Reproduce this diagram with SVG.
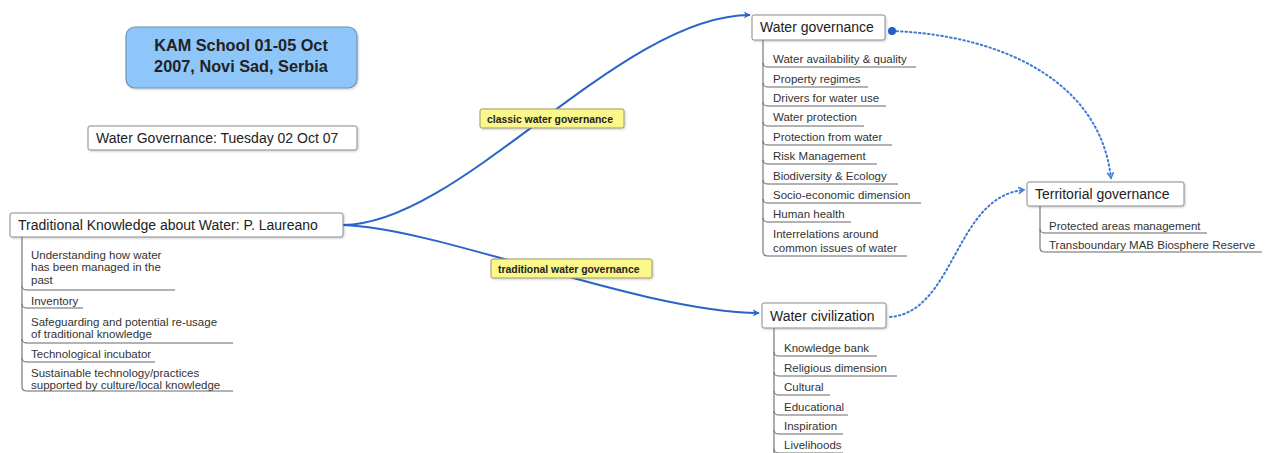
<svg xmlns="http://www.w3.org/2000/svg" width="1270" height="453" viewBox="0 0 1270 453">
  <defs>
    <marker id="arrow" viewBox="0 0 10 10" refX="9" refY="5" markerWidth="7" markerHeight="7" orient="auto" markerUnits="userSpaceOnUse">
      <path d="M0,0 L10,5 L0,10 L3,5 z" fill="#2a64c8"/>
    </marker>
    <marker id="openArrow" viewBox="0 0 10 10" refX="8" refY="5" markerWidth="8" markerHeight="8" orient="auto" markerUnits="userSpaceOnUse">
      <path d="M1,1 L8,5 L1,9" fill="none" stroke="#4a7fd6" stroke-width="2"/>
    </marker>
    <marker id="dot" viewBox="0 0 10 10" refX="5" refY="5" markerWidth="9" markerHeight="9" markerUnits="userSpaceOnUse">
      <circle cx="5" cy="5" r="4.5" fill="#1f5fc8"/>
    </marker>
    <filter id="shadow" x="-5%" y="-20%" width="110%" height="150%">
      <feDropShadow dx="1" dy="1" stdDeviation="1" flood-color="#000" flood-opacity="0.2"/>
    </filter>
  </defs>
  <style>
    text { font-family: "Liberation Sans", Arial, sans-serif; fill: #222; }
    .box { fill: #fff; stroke: #8a8a8a; stroke-width: 1; filter: url(#shadow); }
    .title { font-size: 14px; }
    .child { font-size: 11.5px; fill: #333; }
    .stem { fill: none; stroke: #7a7a7a; stroke-width: 1.2; }
    .under { fill: none; stroke: #666; stroke-width: 1; }
    .link { fill: none; stroke: #2a64c8; stroke-width: 2; }
    .dotted { fill: none; stroke: #3f78d4; stroke-width: 2; stroke-dasharray: 1.5 3; stroke-linecap: round; }
    .label { fill: #fbf78a; stroke: #9a9a6a; stroke-width: 1; filter: url(#shadow); }
    .labeltext { font-size: 10.4px; font-weight: bold; fill: #222; }
  </style>

  <rect width="1270" height="453" fill="#fff"/>

  <!-- connectors -->
  <g id="connectors">
    <path class="link" d="M343,225 C460,225 620,15 750,15" marker-end="url(#arrow)"/>
    <path class="link" d="M343,225 C440,228 640,312 759,313" marker-end="url(#arrow)"/>
    <path class="dotted" d="M892,31 C1000,35 1100,80 1111,178" marker-start="url(#dot)" marker-end="url(#openArrow)"/>
    <path class="dotted" d="M890,317 C955,312 955,196 1024,190" marker-end="url(#openArrow)"/>
    <g id="label-classic">
      <rect class="label" x="480" y="109" width="144" height="19" rx="2"/>
      <text class="labeltext" x="487" y="122.5">classic water governance</text>
    </g>
    <g id="label-traditional">
      <rect class="label" x="491" y="259" width="161" height="19" rx="2"/>
      <text class="labeltext" x="498" y="272.5">traditional water governance</text>
    </g>
  </g>

  <!-- event title -->
  <g id="event">
    <rect x="126" y="27" width="231" height="61" rx="9" fill="#8ec6f9" stroke="#6e94b8" stroke-width="1.2" filter="url(#shadow)"/>
    <text x="241" y="51" text-anchor="middle" font-size="16.3" font-weight="bold" fill="#1e2a3a">KAM School 01-05 Oct</text>
    <text x="241" y="72" text-anchor="middle" font-size="16.3" font-weight="bold" fill="#1e2a3a">2007, Novi Sad, Serbia</text>
  </g>

  <!-- session title -->
  <g id="session">
    <rect class="box" x="88" y="126" width="269" height="24" rx="2"/>
    <text class="title" x="96" y="143">Water Governance: Tuesday 02 Oct 07</text>
  </g>

  <!-- Traditional Knowledge -->
  <g id="traditional-knowledge">
    <rect class="box" x="10" y="213" width="333" height="24" rx="2"/>
    <text class="title" x="18" y="230">Traditional Knowledge about Water: P. Laureano</text>
    <path class="stem" d="M22,237 V387 Q22,391 27,391"/>
    <path class="under" d="M22,286 Q22,290 27,290 H175"/>
    <path class="under" d="M22,304 Q22,308 27,308 H83"/>
    <path class="under" d="M22,339 Q22,343 27,343 H233"/>
    <path class="under" d="M22,358 Q22,362 27,362 H155"/>
    <path class="under" d="M27,391 H233"/>
    <text class="child" x="31" y="259">Understanding how water</text>
    <text class="child" x="31" y="271">has been managed in the</text>
    <text class="child" x="31" y="284">past</text>
    <text class="child" x="31" y="305">Inventory</text>
    <text class="child" x="31" y="326">Safeguarding and potential re-usage</text>
    <text class="child" x="31" y="338">of traditional knowledge</text>
    <text class="child" x="31" y="358">Technological incubator</text>
    <text class="child" x="31" y="377">Sustainable technology/practices</text>
    <text class="child" x="31" y="389">supported by culture/local knowledge</text>
  </g>

  <!-- Water governance -->
  <g id="water-governance">
    <rect class="box" x="752" y="15" width="133" height="25" rx="2"/>
    <text class="title" x="760" y="32">Water governance</text>
    <path class="stem" d="M763,40 V252 Q763,256 768,256"/>
    <path class="under" d="M763,63 Q763,67 768,67 H916"/>
    <path class="under" d="M763,83 Q763,87 768,87 H868"/>
    <path class="under" d="M763,102 Q763,106 768,106 H886"/>
    <path class="under" d="M763,122 Q763,126 768,126 H864"/>
    <path class="under" d="M763,141 Q763,145 768,145 H892"/>
    <path class="under" d="M763,160 Q763,164 768,164 H877"/>
    <path class="under" d="M763,180 Q763,184 768,184 H898"/>
    <path class="under" d="M763,199 Q763,203 768,203 H921"/>
    <path class="under" d="M763,218 Q763,222 768,222 H851"/>
    <path class="under" d="M768,256 H907"/>
    <text class="child" x="773" y="63">Water availability &amp; quality</text>
    <text class="child" x="773" y="83">Property regimes</text>
    <text class="child" x="773" y="102">Drivers for water use</text>
    <text class="child" x="773" y="121">Water protection</text>
    <text class="child" x="773" y="141">Protection from water</text>
    <text class="child" x="773" y="160">Risk Management</text>
    <text class="child" x="773" y="180">Biodiversity &amp; Ecology</text>
    <text class="child" x="773" y="199">Socio-economic dimension</text>
    <text class="child" x="773" y="218">Human health</text>
    <text class="child" x="773" y="238">Interrelations around</text>
    <text class="child" x="773" y="252">common issues of water</text>
  </g>

  <!-- Water civilization -->
  <g id="water-civilization">
    <rect class="box" x="762" y="303" width="124" height="25" rx="2"/>
    <text class="title" x="770" y="321">Water civilization</text>
    <path class="stem" d="M774,328 V453"/>
    <path class="under" d="M774,352 Q774,356 779,356 H877"/>
    <path class="under" d="M774,372 Q774,376 779,376 H897"/>
    <path class="under" d="M774,391 Q774,395 779,395 H830"/>
    <path class="under" d="M774,411 Q774,415 779,415 H848"/>
    <path class="under" d="M774,430 Q774,434 779,434 H843"/>
    <path class="under" d="M774,449 Q774,453 779,453 H843"/>
    <text class="child" x="784" y="352">Knowledge bank</text>
    <text class="child" x="784" y="372">Religious dimension</text>
    <text class="child" x="784" y="391">Cultural</text>
    <text class="child" x="784" y="411">Educational</text>
    <text class="child" x="784" y="430">Inspiration</text>
    <text class="child" x="784" y="449">Livelihoods</text>
  </g>

  <!-- Territorial governance -->
  <g id="territorial-governance">
    <rect class="box" x="1027" y="182" width="157" height="24" rx="2"/>
    <text class="title" x="1035" y="199">Territorial governance</text>
    <path class="stem" d="M1040,206 V248 Q1040,252 1045,252"/>
    <path class="under" d="M1040,229 Q1040,233 1045,233 H1207"/>
    <path class="under" d="M1045,252 H1262"/>
    <text class="child" x="1049" y="230">Protected areas management</text>
    <text class="child" x="1049" y="249">Transboundary MAB Biosphere Reserve</text>
  </g>
</svg>
